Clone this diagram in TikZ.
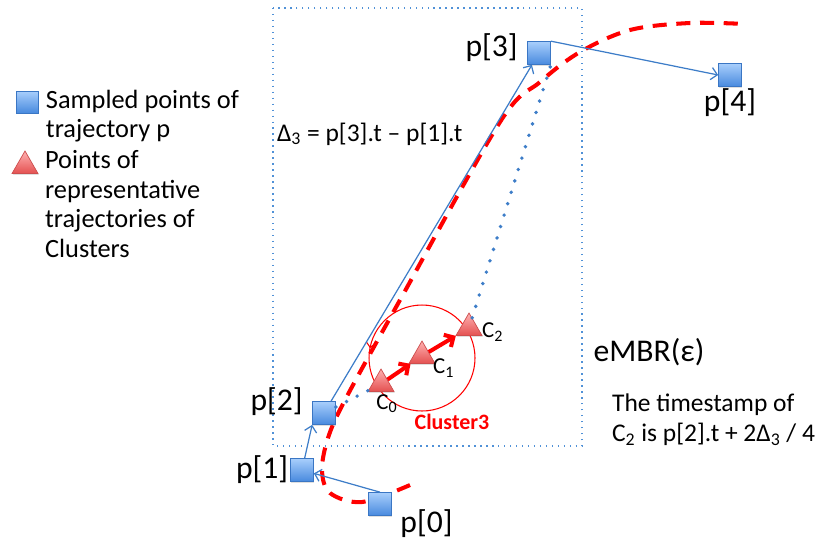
\documentclass[tikz,border=0pt]{standalone}
\usepackage{fontspec}
\setmainfont{Carlito}
\usetikzlibrary{positioning,arrows.meta,shapes.geometric,shadows,decorations.markings}

\definecolor{ptblue}{RGB}{61,125,200}
\definecolor{sqtop}{RGB}{168,206,252}
\definecolor{sqbot}{RGB}{72,138,222}
\definecolor{sqedge}{RGB}{58,118,196}
\definecolor{tritop}{RGB}{255,178,178}
\definecolor{tribot}{RGB}{228,80,80}
\definecolor{triedge}{RGB}{205,78,78}
\definecolor{mbrblue}{RGB}{80,145,215}

\begin{document}
\begin{tikzpicture}[
    x=0.02cm, y=-0.02cm,
    sample/.style={draw=sqedge, top color=sqtop, bottom color=sqbot, rectangle, minimum size=0.46cm, inner sep=0pt, drop shadow={opacity=0.25, shadow xshift=0.5pt, shadow yshift=-0.8pt}},
    rep/.style={draw=triedge, top color=tritop, bottom color=tribot, regular polygon, regular polygon sides=3, minimum size=0.6cm, inner sep=0pt, drop shadow={opacity=0.25, shadow xshift=0.5pt, shadow yshift=-0.8pt}},
    cluster/.style={circle, draw=red, line width=0.6pt, minimum size=2.12cm, inner sep=0pt, postaction={decorate}, decoration={markings, mark=at position 0.47 with {\arrow{Straight Barb[length=2.5pt, width=5pt]}}}},
    plabel/.style={inner sep=1pt, font=\fontsize{18}{21}\selectfont},
    clabel/.style={inner sep=1pt, font=\fontsize{13}{15}\selectfont},
    legtext/.style={inner sep=1pt, align=left, font=\fontsize{15}{16.8}\selectfont},
    note/.style={inner sep=1pt, align=left, font=\fontsize{14.5}{17}\selectfont},
    move/.style={ptblue, line width=0.7pt, -{Straight Barb[length=3.5pt, width=7pt]}},
    repmove/.style={red, line width=2.3pt, -{Straight Barb[length=4pt, width=8pt]}},
    link/.style={ptblue, line width=2.2pt, line cap=round, dash pattern=on 0pt off 6.8pt},
    mbr/.style={mbrblue, line width=0.8pt, dash pattern=on 0.8pt off 2.6pt},
    trajline/.style={red, line width=2.3pt, dash pattern=on 8pt off 5.5pt}
]
\useasboundingbox (0,0) rectangle (817,549);

% eMBR and representative trajectory
\draw[mbr] (273,8) rectangle (582,446);
\draw[trajline] plot[smooth, tension=0.55] coordinates {(410,485) (362,502) (330,493) (322,470) (328,438) (345,400) (400,300) (500,122) (540,82) (580,52) (630,30) (690,23) (745,24)};

% Sampled points
\node[sample] (pt0) at (380,504) {};
\node[sample] (pt1) at (302,470) {};
\node[sample] (pt2) at (324,413) {};
\node[sample] (pt3) at (539,53) {};
\node[sample] (pt4) at (730,75) {};

% Cluster points
\node[cluster] (cl3) at (422,358) {};
\node[rep] (c0) at (381,384) {};
\node[rep] (c1) at (422,356) {};
\node[rep] (c2) at (469,328) {};

% Labels
\node[plabel, below right=-0.17cm and 0.13cm of pt0] (lbl0) {p[0]};
\node[plabel, left=0pt of pt1] (lbl1) {p[1]};
\node[plabel, left=0.15cm of pt2.north west] (lbl2) {p[2]};
\node[plabel, left=0.15cm of pt3, yshift=0.1cm] (lbl3) {p[3]};
\node[plabel, below=0pt of pt4] (lbl4) {p[4]};
\node[clabel, below=0.02cm of c0, xshift=0.12cm] (lc0) {C\textsubscript{0}};
\node[clabel, right=0pt of c1, yshift=-0.24cm] (lc1) {C\textsubscript{1}};
\node[clabel, right=0.04cm of c2, yshift=-0.08cm] (lc2) {C\textsubscript{2}};
\node[inner sep=1pt, text=red, font=\bfseries\fontsize{12.5}{15}\selectfont, below=0pt of cl3, xshift=0.6cm] (lcl3) {Cluster3};

% Arrows
\draw[move] (pt0.north) -- (pt1);
\draw[move] (pt1) -- (pt2.south west);
\draw[move] (pt2) -- (pt3);
\draw[move] (pt3.north east) -- (pt4.west);
\draw[repmove] (c0) -- (c1);
\draw[repmove] (c1) -- (c2);
\draw[link] (pt2) -- (c0);
\draw[link] (c2) -- (pt3.south east);

% Texts
\node[note, anchor=west] (delta) at (275,134) {Δ\textsubscript{3} = p[3].t -- p[1].t};
\node[plabel] (embr) at (649,352) {eMBR(ε)};
\node[note, anchor=north west] (stamp) at (610,392) {The timestamp of\\C\textsubscript{2} is p[2].t + 2Δ\textsubscript{3} / 4};

% Legend
\node[sample, minimum size=0.44cm] (lsq) at (27,102) {};
\node[rep] (ltri) at (25,166) {};
\node[legtext, below right=-0.06cm and 0.11cm of lsq.north east] (lgsq) {Sampled points of\\trajectory p};
\node[legtext, below right=-0.04cm and 0.36cm of ltri.north] (lgtri) {Points of\\representative\\trajectories of\\Clusters};

\end{tikzpicture}
\end{document}
